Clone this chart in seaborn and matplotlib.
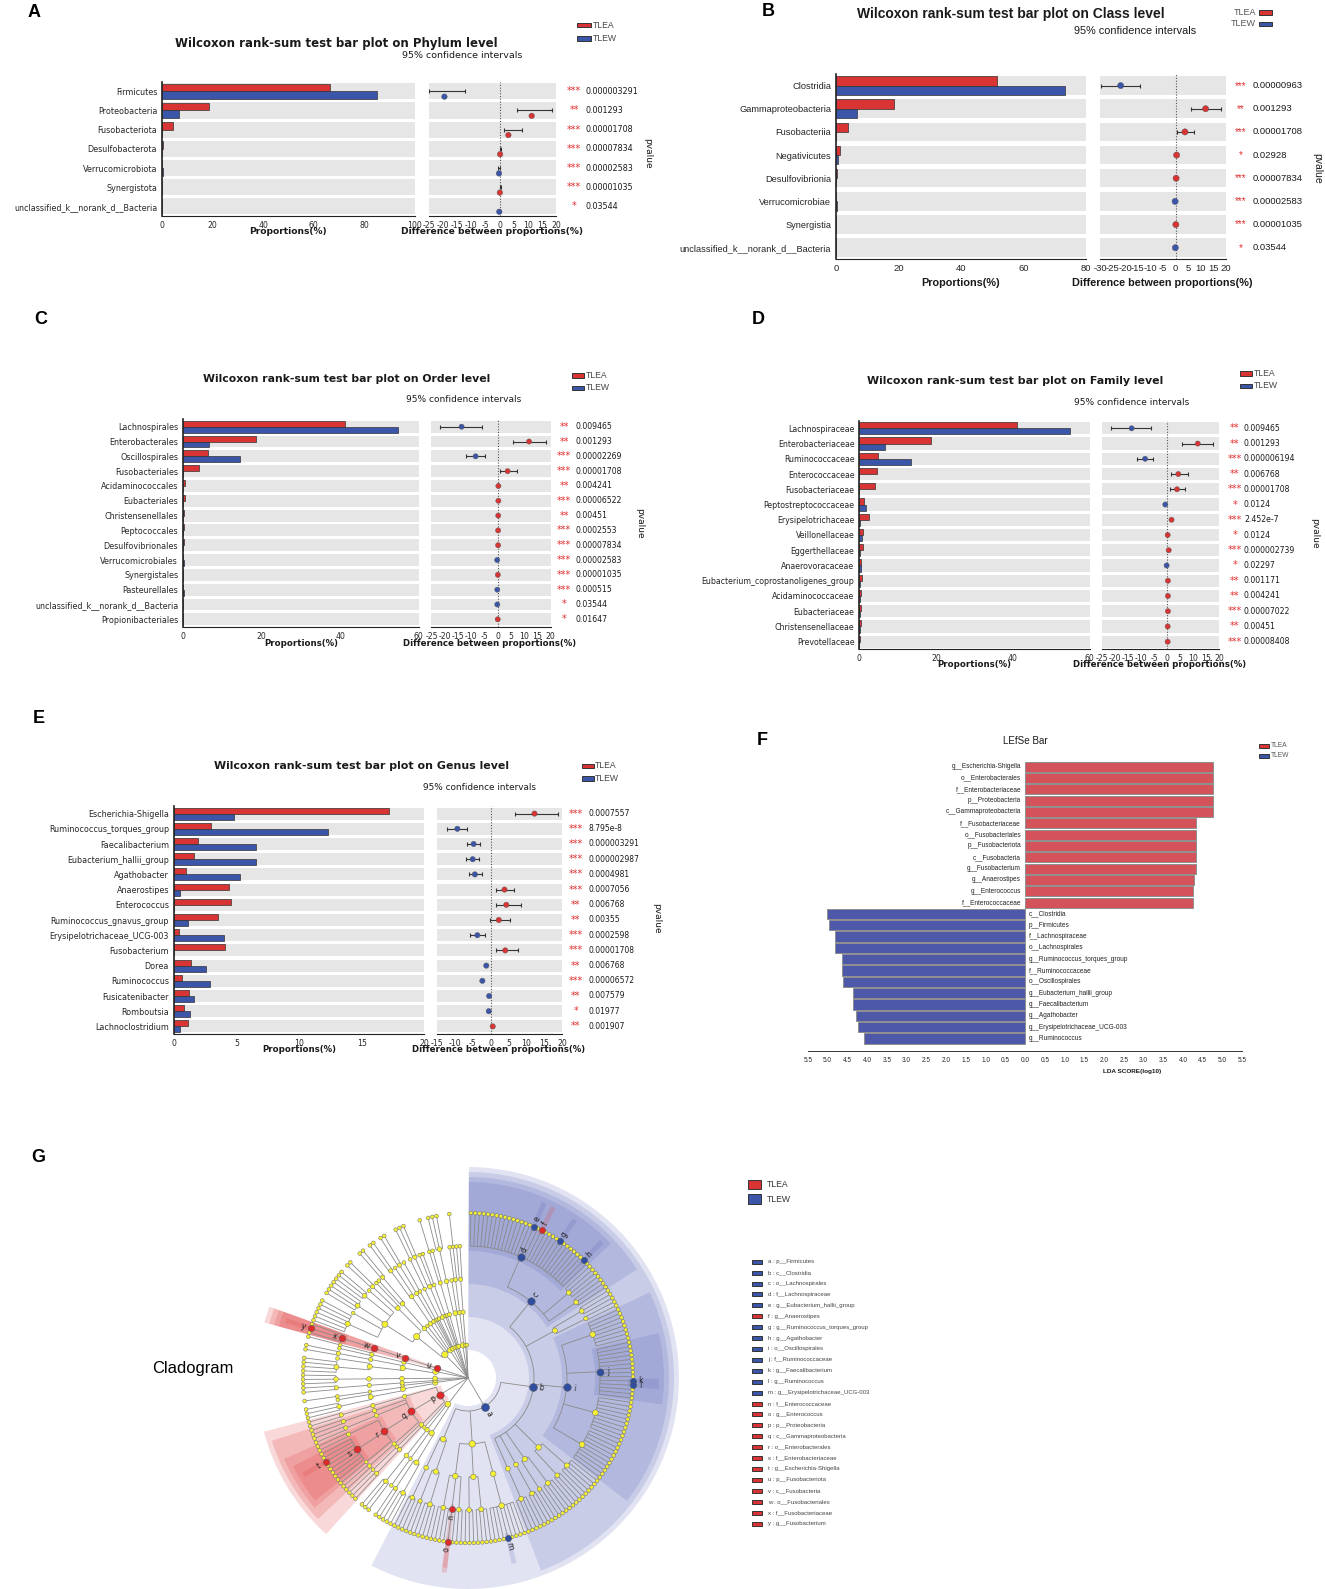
"""Wilcoxon bar plots (phylum..genus), LEfSe bar and cladogram, TLEA vs TLEW."""

import matplotlib

matplotlib.use("Agg")
import matplotlib.pyplot as plt
import numpy as np
import pandas as pd
import seaborn as sns
from matplotlib.collections import LineCollection
from matplotlib.patches import Rectangle, Wedge

NAN = np.nan

# ---------------------------------------------------------------- data
A_NAMES = ["Firmicutes", "Proteobacteria", "Fusobacteriota", "Desulfobacterota",
           "Verrucomicrobiota", "Synergistota", "unclassified_k__norank_d__Bacteria"]
A_TLEA = [66.5, 18.8, 4.2, 0.25, 0.1, 0.1, 0.05]
A_TLEW = [85.3, 6.7, 0.1, 0.05, 0.25, 0.02, 0.1]
A_DIFF = [-19.4, 11.3, 3.1, 0.2, -0.2, 0.1, -0.1]
A_LO = [-24.7, 6.1, 1.5, 0.1, -0.4, 0.0, NAN]
A_HI = [-12.1, 18.5, 7.9, 0.5, 0.3, 0.35, NAN]
A_P = ["0.000003291", "0.001293", "0.00001708", "0.00007834", "0.00002583",
       "0.00001035", "0.03544"]

B_NAMES = ["Clostridia", "Gammaproteobacteria", "Fusobacteriia", "Negativicutes",
           "Desulfovibrionia", "Verrucomicrobiae", "Synergistia",
           "unclassified_k__norank_d__Bacteria"]
B_TLEA = [51.5, 18.7, 3.9, 1.2, 0.25, 0.1, 0.1, 0.05]
B_TLEW = [73.4, 6.6, 0.1, 0.7, 0.05, 0.25, 0.02, 0.1]
B_DIFF = [-21.8, 11.9, 3.7, 0.4, 0.2, -0.2, 0.1, -0.1]
B_LO = [-29.7, 6.2, 0.6, NAN, NAN, NAN, NAN, NAN]
B_HI = [-14.2, 18.0, 7.4, NAN, NAN, NAN, NAN, NAN]
B_P = ["0.00000963", "0.001293", "0.00001708", "0.02928", "0.00007834",
       "0.00002583", "0.00001035", "0.03544"]

C_NAMES = ["Lachnospirales", "Enterobacterales", "Oscillospirales", "Fusobacteriales",
           "Acidaminococcales", "Eubacteriales", "Christensenellales", "Peptococcales",
           "Desulfovibrionales", "Verrucomicrobiales", "Synergistales", "Pasteurellales",
           "unclassified_k__norank_d__Bacteria", "Propionibacteriales"]
C_TLEA = [41.2, 18.6, 6.3, 4.0, 0.55, 0.45, 0.35, 0.25, 0.25, 0.1, 0.1, 0.05, 0.05, 0.05]
C_TLEW = [54.8, 6.5, 14.6, 0.1, 0.1, 0.1, 0.1, 0.05, 0.05, 0.25, 0.02, 0.15, 0.1, 0.01]
C_DIFF = [-13.6, 11.9, -8.3, 3.8, 0.3, 0.3, 0.25, 0.2, 0.2, -0.15, 0.1, -0.1, -0.1, 0.05]
C_LO = [-21.7, 6.0, -11.8, 0.95] + [NAN] * 10
C_HI = [-5.8, 18.4, -4.8, 7.3] + [NAN] * 10
C_P = ["0.009465", "0.001293", "0.00002269", "0.00001708", "0.004241", "0.00006522",
       "0.00451", "0.0002553", "0.00007834", "0.00002583", "0.00001035", "0.000515",
       "0.03544", "0.01647"]

D_NAMES = ["Lachnospiraceae", "Enterobacteriaceae", "Ruminococcaceae", "Enterococcaceae",
           "Fusobacteriaceae", "Peptostreptococcaceae", "Erysipelotrichaceae",
           "Veillonellaceae", "Eggerthellaceae", "Anaerovoracaceae",
           "Eubacterium_coprostanoligenes_group", "Acidaminococcaceae", "Eubacteriaceae",
           "Christensenellaceae", "Prevotellaceae"]
D_TLEA = [41.2, 18.8, 5.0, 4.7, 4.1, 1.3, 2.4, 0.9, 1.0, 0.35, 0.6, 0.55, 0.45, 0.35, 0.25]
D_TLEW = [54.8, 6.6, 13.5, 0.05, 0.05, 1.8, 0.2, 0.6, 0.2, 0.5, 0.3, 0.1, 0.1, 0.1, 0.05]
D_DIFF = [-13.7, 11.8, -8.5, 4.3, 3.8, -0.7, 1.7, 0.2, 0.6, -0.2, 0.3, 0.3, 0.3, 0.2, 0.2]
D_LO = [-21.8, 5.9, -11.8, 1.5, 1.2] + [NAN] * 10
D_HI = [-6.2, 17.8, -5.4, 7.9, 7.0] + [NAN] * 10
D_P = ["0.009465", "0.001293", "0.000006194", "0.006768", "0.00001708", "0.0124",
       "2.452e-7", "0.0124", "0.000002739", "0.02297", "0.001171", "0.004241",
       "0.00007022", "0.00451", "0.00008408"]

E_NAMES = ["Escherichia-Shigella", "Ruminococcus_torques_group", "Faecalibacterium",
           "Eubacterium_hallii_group", "Agathobacter", "Anaerostipes", "Enterococcus",
           "Ruminococcus_gnavus_group", "Erysipelotrichaceae_UCG-003", "Fusobacterium",
           "Dorea", "Ruminococcus", "Fusicatenibacter", "Romboutsia", "Lachnoclostridium"]
E_TLEA = [17.2, 3.0, 1.9, 1.65, 1.0, 4.4, 4.6, 3.5, 0.4, 4.1, 1.4, 0.65, 1.25, 0.85, 1.15]
E_TLEW = [4.8, 12.3, 6.6, 6.6, 5.3, 0.5, 0.05, 1.1, 4.0, 0.02, 2.6, 2.9, 1.6, 1.3, 0.5]
E_DIFF = [12.3, -9.3, -4.75, -5.0, -4.4, 3.9, 4.4, 2.3, -3.7, 4.1, -1.2, -2.3, -0.4, -0.5, 0.6]
E_LO = [6.7, -12.1, -6.5, -6.75, -6.0, 1.5, 1.4, -0.15, -5.7, 1.5] + [NAN] * 5
E_HI = [18.9, -6.5, -3.0, -3.2, -2.4, 6.45, 8.6, 5.5, -1.6, 7.6] + [NAN] * 5
E_P = ["0.0007557", "8.795e-8", "0.000003291", "0.000002987", "0.0004981", "0.0007056",
       "0.006768", "0.00355", "0.0002598", "0.00001708", "0.006768", "0.00006572",
       "0.007579", "0.01977", "0.001907"]

F_NAMES = ["g__Escherichia-Shigella", "o__Enterobacterales", "f__Enterobacteriaceae",
           "p__Proteobacteria", "c__Gammaproteobacteria", "f__Fusobacteriaceae",
           "o__Fusobacteriales", "p__Fusobacteriota", "c__Fusobacteria", "g__Fusobacterium",
           "g__Anaerostipes", "g__Enterococcus", "f__Enterococcaceae", "c__Clostridia",
           "p__Firmicutes", "f__Lachnospiraceae", "o__Lachnospirales",
           "g__Ruminococcus_torques_group", "f__Ruminococcaceae", "o__Oscillospirales",
           "g__Eubacterium_hallii_group", "g__Faecalibacterium", "g__Agathobacter",
           "g__Erysipelotrichaceae_UCG-003", "g__Ruminococcus"]
F_LDA = [4.76, 4.76, 4.76, 4.76, 4.76, 4.33, 4.33, 4.33, 4.33, 4.33, 4.27, 4.25, 4.25,
         5.01, 4.97, 4.81, 4.81, 4.64, 4.63, 4.60, 4.35, 4.35, 4.28, 4.24, 4.07]
F_GROUP = ["TLEA"] * 13 + ["TLEW"] * 12

# cladogram tree: phylum -> class -> order -> family (= number of genera);
# a 0 or [] marks a taxon without classified children (a shorter branch)
CLOSTRIDIA = [[31, 4, 3], [3, 2], [8, 14, 10, 10], [5, 3], [4, 2], [3], [4]]
BACILLI = [[8], [4, 3], [3, 1, 4]]
NEGATIVICUTES = [[4, 2], [3]]
FIRMICUTES = [CLOSTRIDIA, BACILLI, NEGATIVICUTES]
ACTINOBACTERIOTA = [[[3, 2], [0]], [[3]], []]
PROTEOBACTERIA = [[[2], [1]], [[2], [1, 8, 2], [2], [2]], [[2]]]
DESULFOBACTEROTA = [[[3, 0], [1]], []]
VERRUCOMICROBIOTA = [[[2]]]
SYNERGISTOTA = [[[3]]]
CAMPYLOBACTEROTA = [[[4, 0], [2]], [[0, 1]]]
FUSOBACTERIOTA = [[[3]]]
BACTEROIDOTA = [[[6, 0, 4, 3, 0], [2, 0]], [[0, 2]], []]
PATESCIBACTERIA = [[[2, 0]], [[2]]]
CYANOBACTERIA = [[[0]], [], [[1]]]
SPIROCHAETOTA = [[[2, 0]]]
ELUSIMICROBIOTA = [[[0]], []]
BDELLOVIBRIONOTA = [[[1, 0]]]
EURYARCHAEOTA = [[[3], []], [[0, 1]]]
DEFERRIBACTEROTA = [[[0, 0]]]
THERMOPLASMATOTA = []
PHYLA = [FIRMICUTES, ACTINOBACTERIOTA, PROTEOBACTERIA, DESULFOBACTEROTA,
         VERRUCOMICROBIOTA, SYNERGISTOTA, CAMPYLOBACTEROTA, FUSOBACTERIOTA, BACTEROIDOTA,
         PATESCIBACTERIA, CYANOBACTERIA, SPIROCHAETOTA, ELUSIMICROBIOTA, BDELLOVIBRIONOTA,
         EURYARCHAEOTA, DEFERRIBACTEROTA, THERMOPLASMATOTA]

BM_LETTERS = list("abcdefghijklmnopqrstuvwxy")
BM_NAMES = ["p__Firmicutes", "c__Clostridia", "o__Lachnospirales", "f__Lachnospiraceae",
            "g__Eubacterium_hallii_group", "g__Anaerostipes", "g__Ruminococcus_torques_group",
            "g__Agathobacter", "o__Oscillospirales", "f__Ruminococcaceae",
            "g__Faecalibacterium", "g__Ruminococcus", "g__Erysipelotrichaceae_UCG-003",
            "f__Enterococcaceae", "g__Enterococcus", "p__Proteobacteria",
            "c__Gammaproteobacteria", "o__Enterobacterales", "f__Enterobacteriaceae",
            "g__Escherichia-Shigella", "p__Fusobacteriota", "c__Fusobacteria",
            "o__Fusobacteriales", "f__Fusobacteriaceae", "g__Fusobacterium"]
BM_GROUPS = ["TLEW"] * 5 + ["TLEA"] + ["TLEW"] * 7 + ["TLEA"] * 12
BM_PATHS = [(0,), (0, 0), (0, 0, 0), (0, 0, 0, 0), (0, 0, 0, 0, 15), (0, 0, 0, 0, 17),
            (0, 0, 0, 0, 22), (0, 0, 0, 0, 29), (0, 0, 2), (0, 0, 2, 1), (0, 0, 2, 1, 9),
            (0, 0, 2, 1, 10), (0, 1, 0, 0, 4), (0, 1, 2, 1), (0, 1, 2, 1, 0), (2,), (2, 1),
            (2, 1, 1), (2, 1, 1, 1), (2, 1, 1, 1, 5), (7,), (7, 0), (7, 0, 0), (7, 0, 0, 0),
            (7, 0, 0, 0, 1)]

# ---------------------------------------------------------------- style
W, H = 1325, 1589
GROUPS = ["TLEA", "TLEW"]
PALETTE = {"TLEA": "#d83434", "TLEW": "#3b55a8"}
LEFSE_PAL = {"TLEA": "#d4535a", "TLEW": "#4d58a8"}
CLADE_PAL = {"TLEA": "#e0292b", "TLEW": "#2f4ea0"}
SHADE_PAL = {"TLEA": "#e04040", "TLEW": "#4a56b0"}
BAND = "#e6e6e6"
STAR = "#e03030"
DEJAVU = ["DejaVu Sans"]
ARIAL = ["Liberation Sans", "DejaVu Sans"]

sns.set_style("white")
plt.rcParams["font.family"] = DEJAVU

fig = plt.figure(figsize=(W / 100, H / 100), dpi=100)


def box(x0, y0, x1, y1):
    return [x0 / W, 1 - y1 / H, (x1 - x0) / W, (y1 - y0) / H]


def ftext(x, y, s, **kw):
    kw.setdefault("ha", "center")
    kw.setdefault("va", "center")
    kw.setdefault("color", "#1a1a1a")
    fig.text(x / W, 1 - y / H, s, **kw)


def frect(x0, yc, w, h, color):
    fig.add_artist(Rectangle((x0 / W, 1 - (yc + h / 2) / H), w / W, h / H,
                             transform=fig.transFigure, facecolor=color,
                             edgecolor="#333333", linewidth=0.7))


def stars(p):
    v = float(p)
    return "***" if v < 0.001 else "**" if v < 0.01 else "*"


def wilcoxon_panel(letter, level, names, tlea, tlew, diff, ci_lo, ci_hi, pvals, lay, st):
    n = len(names)
    top, bot = lay["top"], lay["bottom"]
    fam = st["family"]
    df = pd.DataFrame({"taxon": list(names) * 2,
                       "group": ["TLEA"] * n + ["TLEW"] * n,
                       "value": list(tlea) + list(tlew)})

    ax = fig.add_axes(box(lay["left"][0], top, lay["left"][1], bot))
    for i in range(n):
        ax.axhspan(i - 0.5 + st["gap"], i + 0.5 - st["gap"], color=BAND, lw=0, zorder=0)
    sns.barplot(data=df, x="value", y="taxon", hue="group", order=names,
                hue_order=GROUPS, palette=PALETTE, saturation=1, orient="h",
                errorbar=None, width=0.8, edgecolor="#333333", linewidth=0.5,
                legend=False, ax=ax)
    ax.set_xlim(0, lay["xmax"])
    ax.set_ylim(n - 0.5, -0.5)
    ax.set_xlabel("")
    ax.set_ylabel("")
    ax.set_xticks(lay["xticks"], [str(t) for t in lay["xticks"]],
                  fontsize=st["tick"], family=fam)
    ax.set_yticks(range(n), names, fontsize=st["label"], family=fam)
    ax.tick_params(axis="both", length=2, width=0.6, pad=1.5, color="#222222")
    for side in ("top", "right"):
        ax.spines[side].set_visible(False)
    ax.spines["left"].set_linewidth(1.2)
    ax.spines["left"].set_color("#222222")
    ax.spines["bottom"].set_linewidth(0.8)
    ax.spines["bottom"].set_color("#222222")

    ax2 = fig.add_axes(box(lay["right"][0], top, lay["right"][1], bot))
    for i in range(n):
        ax2.axhspan(i - 0.5 + st["gap"], i + 0.5 - st["gap"], color=BAND, lw=0, zorder=0)
    rows = np.arange(n)
    d = np.asarray(diff, float)
    lo = np.asarray(ci_lo, float)
    hi = np.asarray(ci_hi, float)
    ok = ~np.isnan(lo)
    ax2.errorbar(d[ok], rows[ok], xerr=[d[ok] - lo[ok], hi[ok] - d[ok]], fmt="none",
                 ecolor="#333333", elinewidth=0.8, capsize=1.5, capthick=0.8, zorder=2)
    ax2.axvline(0, color="#555555", ls=(0, (1, 1.5)), lw=0.8, zorder=1)
    side = np.where(d > 0, "TLEA", "TLEW")
    sns.scatterplot(x=d, y=rows + lay["dot_off"], hue=side, hue_order=GROUPS,
                    palette=PALETTE, s=st["dot"], edgecolor="#555555", linewidth=0.3,
                    legend=False, ax=ax2, zorder=3)
    ax2.set_xlim(*lay["dlim"])
    ax2.set_ylim(n - 0.5, -0.5)
    ax2.set_yticks([])
    dt = list(range(lay["dlim"][0], lay["dlim"][1] + 1, 5))
    ax2.set_xticks(dt, [str(t) for t in dt], fontsize=st["tick"], family=fam)
    ax2.tick_params(axis="x", length=2, width=0.6, pad=1.5, color="#222222")
    for s in ("top", "right", "left"):
        ax2.spines[s].set_visible(False)
    ax2.spines["bottom"].set_linewidth(0.8)
    ax2.spines["bottom"].set_color("#222222")

    ftext(*lay["letter"], letter, fontsize=13, fontweight="bold", family=ARIAL,
          color="black")
    ftext(*lay["title"], f"Wilcoxon rank-sum test bar plot on {level} level",
          fontsize=st["title"], fontweight="bold", family=fam)
    ftext(*lay["sub"], "95% confidence intervals", fontsize=st["sub"], family=fam)
    row_h = (bot - top) / n
    for i, p in enumerate(pvals):
        y = top + (i + 0.5) * row_h
        ftext(lay["star_x"], y, stars(p), color=STAR, fontsize=st["star"], family=fam)
        ftext(lay["p_x"], y, p, ha="left", fontsize=st["p"], family=fam)
    ftext(*lay["pv"], "pvalue", rotation=270, fontsize=st["pv"], family=fam)
    ftext(lay["xlab_l"], lay["xlab_y"], "Proportions(%)", fontsize=st["xlab"],
          fontweight="bold", family=fam)
    ftext(lay["xlab_r"], lay["xlab_y"], "Difference between proportions(%)",
          fontsize=st["xlab"], fontweight="bold", family=fam)

    lx, ly1, ly2 = lay["legend"]
    for grp, ly in zip(GROUPS, (ly1, ly2)):
        frect(lx, ly, lay["lw"], 4.6, PALETTE[grp])
        if lay["legend_text"] == "right":
            ftext(lx + lay["lw"] + 1.5, ly, grp, ha="left", fontsize=st["legend"],
                  family=ARIAL, color="#444444")
        else:
            ftext(lx - 3, ly, grp, ha="right", fontsize=st["legend"], family=ARIAL,
                  color="#555555")


ST_WIDE = dict(family=DEJAVU, label=5.8, tick=5.6, title=7.9, sub=6.5, xlab=6.2, p=5.6,
               star=7, pv=6.5, legend=6.2, gap=0.1, dot=14)

LAY_A = dict(letter=(33.7, 12.7), top=81.7, bottom=216, left=(162, 414.6),
             right=(428.5, 556.4), xmax=100, xticks=list(range(0, 101, 20)),
             dlim=(-25, 20), title=(336, 43.3), sub=(462.6, 55.7),
             legend=(577, 25, 38.7), lw=14, legend_text="right", star_x=574, p_x=585,
             pv=(648, 153), xlab_y=232, xlab_l=288, xlab_r=492.5, dot_off=0.28)
LAY_B = dict(letter=(768, 11.7), top=74, bottom=259.3, left=(836, 1086),
             right=(1100, 1226), xmax=80, xticks=list(range(0, 81, 20)),
             dlim=(-30, 20), title=(1011, 14), sub=(1135, 30.7),
             legend=(1259, 12.3, 24), lw=12.5, legend_text="left", star_x=1241,
             p_x=1253, pv=(1317, 168), xlab_y=283, xlab_l=961, xlab_r=1162.6,
             dot_off=0.0)
LAY_C = dict(letter=(40.5, 320), top=419.3, bottom=626.7, left=(183, 418.8),
             right=(431.4, 550.5), xmax=60, xticks=[0, 20, 40, 60], dlim=(-25, 20),
             title=(347, 379.3), sub=(464, 399), legend=(571.6, 375.3, 388), lw=12.4,
             legend_text="right", star_x=564, p_x=575.8, pv=(640, 523), xlab_y=643,
             xlab_l=301, xlab_r=490, dot_off=0.0)
LAY_D = dict(letter=(758, 320), top=420.7, bottom=649.3, left=(859.3, 1089.6),
             right=(1102.3, 1219), xmax=60, xticks=[0, 20, 40, 60], dlim=(-25, 20),
             title=(1014.7, 380.7), sub=(1131.6, 402.3), legend=(1240, 373.3, 386),
             lw=12, legend_text="right", star_x=1234.7, p_x=1244, pv=(1315, 533),
             xlab_y=665, xlab_l=974.7, xlab_r=1160, dot_off=0.0)
LAY_E = dict(letter=(38.5, 719), top=806, bottom=1034, left=(173.8, 424.3),
             right=(437, 562), xmax=20, xticks=[0, 5, 10, 15, 20], dlim=(-15, 20),
             title=(362, 765.7), sub=(479.5, 787), legend=(581.7, 766, 778.7), lw=11.8,
             legend_text="right", star_x=575.8, p_x=588.4, pv=(656.5, 918),
             xlab_y=1049.6, xlab_l=299, xlab_r=498.5, dot_off=0.0)

ST_A = dict(ST_WIDE, title=8.5, sub=6.8, xlab=6.6, p=5.8, gap=0.08, dot=16)
ST_B = dict(family=ARIAL, label=6.7, tick=6.8, title=10, sub=7.8, xlab=7.8, p=6.8,
            star=7, pv=7.5, legend=6.5, gap=0.1, dot=20)
ST_C = dict(ST_WIDE, title=7.8)
ST_D = dict(ST_WIDE, label=5.7)
ST_E = dict(ST_WIDE, sub=6.4, p=5.5, dot=15)

wilcoxon_panel("A", "Phylum", A_NAMES, A_TLEA, A_TLEW, A_DIFF, A_LO, A_HI, A_P, LAY_A, ST_A)
wilcoxon_panel("B", "Class", B_NAMES, B_TLEA, B_TLEW, B_DIFF, B_LO, B_HI, B_P, LAY_B, ST_B)
wilcoxon_panel("C", "Order", C_NAMES, C_TLEA, C_TLEW, C_DIFF, C_LO, C_HI, C_P, LAY_C, ST_C)
wilcoxon_panel("D", "Family", D_NAMES, D_TLEA, D_TLEW, D_DIFF, D_LO, D_HI, D_P, LAY_D, ST_D)
wilcoxon_panel("E", "Genus", E_NAMES, E_TLEA, E_TLEW, E_DIFF, E_LO, E_HI, E_P, LAY_E, ST_E)

# ---------------------------------------------------------------- F: LEfSe bar
axf = fig.add_axes(box(807.9, 761, 1242.2, 1051))
signed = [v if g == "TLEA" else -v for v, g in zip(F_LDA, F_GROUP)]
dff = pd.DataFrame({"taxon": F_NAMES, "lda": signed, "group": F_GROUP})
sns.barplot(data=dff, x="lda", y="taxon", hue="group", order=F_NAMES, hue_order=GROUPS,
            palette=LEFSE_PAL, saturation=1, orient="h", dodge=False, width=0.9,
            errorbar=None, edgecolor="#8f8f8f", linewidth=0.7, legend=False, ax=axf)
axf.set_xlim(-5.5, 5.5)
axf.set_ylim(25.1, -0.5)
axf.set_xlabel("")
axf.set_ylabel("")
axf.set_yticks([])
lt = np.arange(-5.5, 5.51, 0.5)
axf.set_xticks(lt, [f"{abs(t):.1f}" for t in lt], fontsize=4.7, family=ARIAL)
axf.tick_params(axis="x", length=2.5, width=0.6, pad=2, color="#333333")
for s in ("top", "right", "left"):
    axf.spines[s].set_visible(False)
axf.spines["bottom"].set_linewidth(0.7)
axf.spines["bottom"].set_color("#333333")
for i, (name, grp) in enumerate(zip(F_NAMES, F_GROUP)):
    if grp == "TLEA":
        axf.text(-0.1, i, name, ha="right", va="center", fontsize=4.7, family=ARIAL,
                 color="#222222")
    else:
        axf.text(0.1, i, name, ha="left", va="center", fontsize=4.7, family=ARIAL,
                 color="#222222")
ftext(762, 740.6, "F", fontsize=13, fontweight="bold", family=ARIAL, color="black")
ftext(1025.5, 740.7, "LEfSe Bar", fontsize=7.1, family=ARIAL)
ftext(1132.6, 1072, "LDA SCORE(log10)", fontsize=4.6, fontweight="bold", family=ARIAL)
for grp, ly in zip(GROUPS, (746, 755.7)):
    frect(1259.4, ly, 9.5, 4, PALETTE[grp])
    ftext(1270.5, ly, grp, ha="left", fontsize=4.8, family=ARIAL, color="#555555")

# ---------------------------------------------------------------- G: cladogram
CX, CY = 468, 1378
LEVEL_R = 33.0
THETA0 = 89.0


def is_tip(sub):
    return sub is None or (isinstance(sub, int) and sub == 0) or \
        (isinstance(sub, list) and len(sub) == 0)


def count_leaves(sub):
    if is_tip(sub):
        return 1
    if isinstance(sub, int):
        return sub
    return sum(count_leaves(k) for k in sub)


STEP = 360.0 / (count_leaves(PHYLA) + 1)
nodes = {}
leaf_no = [0]


def walk(sub, path):
    if is_tip(sub):
        th = THETA0 - leaf_no[0] * STEP
        leaf_no[0] += 1
        nodes[path] = {"th": th, "lo": th, "hi": th, "n": 1, "kids": []}
        return
    kids = [None] * sub if isinstance(sub, int) else sub
    for i, k in enumerate(kids):
        walk(k, path + (i,))
    ch = [nodes[path + (i,)] for i in range(len(kids))]
    nodes[path] = {"th": (ch[0]["th"] + ch[-1]["th"]) / 2,
                   "lo": min(c["lo"] for c in ch), "hi": max(c["hi"] for c in ch),
                   "n": sum(c["n"] for c in ch),
                   "kids": [path + (i,) for i in range(len(kids))]}


walk(PHYLA, ())


def polar(r, th):
    t = np.deg2rad(th)
    return r * np.cos(t), r * np.sin(t)


axg = fig.add_axes(box(240, 1150, 700, 1589))
axg.set_xlim(240 - CX, 700 - CX)
axg.set_ylim(CY - 1589, CY - 1150)
axg.axis("off")

# clade shading, outer levels first
order = sorted(range(len(BM_PATHS)), key=lambda k: len(BM_PATHS[k]))
for k in order:
    path = BM_PATHS[k]
    nd = nodes[path]
    lev = len(path)
    r_in = LEVEL_R * lev - 5
    r_out = 216 - 5 * lev
    axg.add_patch(Wedge((0, 0), r_out, nd["lo"] - STEP / 2, nd["hi"] + STEP / 2,
                        width=r_out - r_in, facecolor=SHADE_PAL[BM_GROUPS[k]],
                        alpha=0.16 if BM_GROUPS[k] == "TLEW" else 0.2, lw=0, zorder=1))

segs = []
for path, nd in nodes.items():
    if not nd["kids"]:
        continue
    r0 = LEVEL_R * len(path)
    ths = [nodes[c]["th"] for c in nd["kids"]]
    if r0 > 0 and len(ths) > 1:
        arc = np.linspace(min(ths), max(ths), max(3, int(abs(max(ths) - min(ths)) * 2)))
        segs.append(np.column_stack(polar(r0, arc)))
    for c in nd["kids"]:
        r1 = LEVEL_R * len(c)
        th = nodes[c]["th"]
        segs.append(np.array([polar(r0, th), polar(r1, th)]))
axg.add_collection(LineCollection(segs, colors="#8a8a8a", linewidths=0.6, zorder=2))

bm_lookup = {p: k for k, p in enumerate(BM_PATHS)}
xs, ys, ss = [], [], []
for path, nd in nodes.items():
    if path == () or path in bm_lookup:
        continue
    x, y = polar(LEVEL_R * len(path), nd["th"])
    xs.append(x)
    ys.append(y)
    ss.append(3 + 6 * np.log1p(nd["n"]))
axg.scatter(xs, ys, s=ss, c="#f5f032", edgecolors="#6b6b6b", linewidths=0.35, zorder=3)

for k, path in enumerate(BM_PATHS):
    nd = nodes[path]
    r = LEVEL_R * len(path)
    x, y = polar(r, nd["th"])
    axg.scatter([x], [y], s=18 + 3 * np.log1p(nd["n"]), c=CLADE_PAL[BM_GROUPS[k]],
                edgecolors="#555555", linewidths=0.35, zorder=4)
    tx, ty = polar(r + 8, nd["th"])
    rot = nd["th"] if np.cos(np.deg2rad(nd["th"])) >= 0 else nd["th"] + 180
    axg.text(tx, ty, BM_LETTERS[k], fontsize=5.5, ha="center", va="center",
             rotation=rot, color="#222222", zorder=5)

ftext(38.5, 1158, "G", fontsize=13, fontweight="bold", family=ARIAL, color="black")
ftext(193, 1368, "Cladogram", fontsize=11.9, family=ARIAL, color="black")
for grp, ly in zip(GROUPS, (1184.7, 1199)):
    frect(747.7, ly, 13, 9.3, PALETTE[grp])
    ftext(766.7, ly, grp, ha="left", fontsize=6.2, family=ARIAL, color="#333333")
for i, (let, name, grp) in enumerate(zip(BM_LETTERS, BM_NAMES, BM_GROUPS)):
    ly = 1261.7 + i * 10.91
    frect(751.7, ly, 10.6, 4, PALETTE[grp])
    ftext(768.3, ly, f"{let} : {name}", ha="left", fontsize=4.3, family=ARIAL,
          color="#444444")

fig.savefig("out.png", dpi=100)
